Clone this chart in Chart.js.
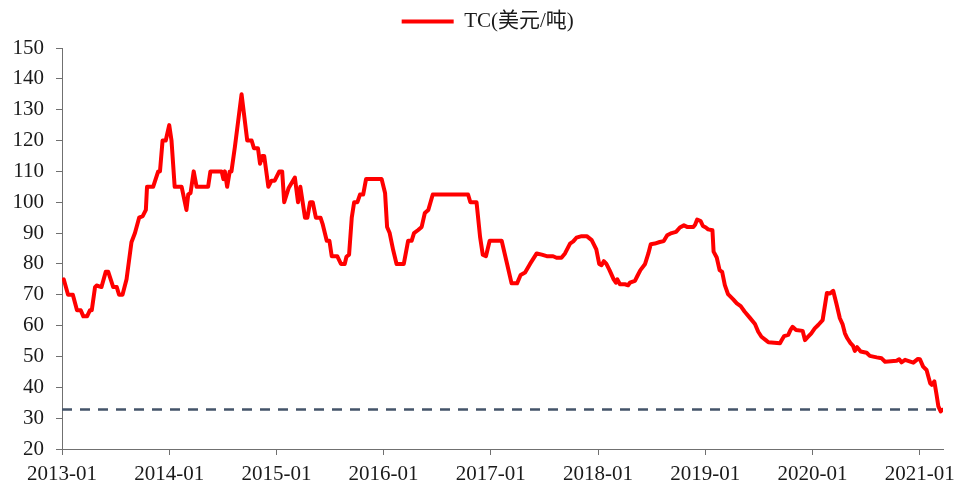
<!DOCTYPE html>
<html>
<head>
<meta charset="utf-8">
<script src="https://cdn.jsdelivr.net/npm/chart.js@4/dist/chart.umd.min.js"></script>
<style>
html,body{margin:0;padding:0;background:#fff;overflow:hidden;}
#wrap{width:955px;height:484px;position:relative;}
</style>
</head>
<body>
<div id="wrap"><canvas id="c"></canvas></div>
<script>
// ---- data ----
const dates = [
'2013-01-07','2013-01-22','2013-02-07','2013-02-20','2013-03-04','2013-03-13','2013-03-26','2013-04-05','2013-04-11','2013-04-22',
'2013-04-27','2013-05-14','2013-05-29','2013-06-06','2013-06-23','2013-07-05','2013-07-13','2013-07-25','2013-08-08','2013-08-25',
'2013-09-06','2013-09-20','2013-10-02','2013-10-13','2013-10-17','2013-11-07','2013-11-24','2013-11-30','2013-12-09','2013-12-20',
'2014-01-01','2014-01-09','2014-01-20','2014-02-12','2014-02-27','2014-03-05','2014-03-13','2014-03-24','2014-04-03','2014-05-12',
'2014-05-20','2014-06-27','2014-07-03','2014-07-08','2014-07-16','2014-07-25','2014-07-31','2014-08-12','2014-09-04','2014-09-23',
'2014-10-08','2014-10-16','2014-10-30','2014-11-06','2014-11-14','2014-11-20','2014-12-04','2014-12-15','2014-12-26','2015-01-11',
'2015-01-21','2015-01-28','2015-02-11','2015-03-03','2015-03-14','2015-03-22','2015-04-07','2015-04-15','2015-04-24','2015-05-03',
'2015-05-14','2015-05-30','2015-06-06','2015-06-20','2015-06-29','2015-07-07','2015-07-26','2015-08-08','2015-08-21','2015-08-27',
'2015-09-05','2015-09-14','2015-09-22','2015-10-03','2015-10-12','2015-10-23','2015-11-02','2015-12-25','2016-01-06','2016-01-13',
'2016-01-22','2016-02-03','2016-02-14','2016-03-09','2016-03-24','2016-04-05','2016-04-13','2016-04-27','2016-05-09','2016-05-20',
'2016-06-01','2016-06-16','2016-10-15','2016-10-23','2016-11-13','2016-11-25','2016-12-04','2016-12-15','2016-12-28','2017-02-07',
'2017-02-24','2017-03-11','2017-03-30','2017-04-11','2017-04-26','2017-05-13','2017-06-05','2017-06-22','2017-07-09','2017-07-31',
'2017-08-12','2017-08-29','2017-09-10','2017-09-27','2017-10-08','2017-10-19','2017-11-06','2017-11-23','2017-12-10','2017-12-26',
'2018-01-05','2018-01-13','2018-01-21','2018-01-30','2018-02-09','2018-02-22','2018-03-01','2018-03-06','2018-03-15','2018-04-01',
'2018-04-12','2018-04-18','2018-05-05','2018-05-13','2018-05-24','2018-06-09','2018-06-20','2018-06-28','2018-07-12','2018-07-29',
'2018-08-12','2018-08-24','2018-09-08','2018-09-23','2018-10-06','2018-10-20','2018-10-31','2018-11-21','2018-11-27','2018-12-04',
'2018-12-16','2018-12-24','2019-01-03','2019-01-11','2019-01-26','2019-01-30','2019-02-09','2019-02-18','2019-02-26','2019-03-07',
'2019-03-18','2019-04-05','2019-04-17','2019-04-30','2019-05-14','2019-06-01','2019-06-18','2019-06-29','2019-07-10','2019-07-25',
'2019-08-03','2019-09-12','2019-09-18','2019-09-26','2019-10-10','2019-10-18','2019-10-25','2019-11-06','2019-11-28','2019-12-06',
'2019-12-17','2019-12-28','2020-01-09','2020-01-21','2020-02-05','2020-02-19','2020-02-29','2020-03-11','2020-03-22','2020-04-03',
'2020-04-12','2020-04-20','2020-04-28','2020-05-09','2020-05-18','2020-05-24','2020-06-01','2020-06-13','2020-07-03','2020-07-14',
'2020-08-07','2020-08-24','2020-09-05','2020-10-14','2020-10-23','2020-10-31','2020-11-12','2020-12-10','2020-12-26','2021-01-02',
'2021-01-13','2021-01-25','2021-02-06','2021-02-11','2021-02-19','2021-02-26','2021-03-04','2021-03-12','2021-03-18'
];
const tcValues = [
75,70,70,65,65,63,63,65,65,72.5,
73,72.5,77.5,77.5,72.5,72.5,70,70,75,87,
90,95,95.5,97.5,105,105,110,110,120,120,
125,120,105,105,97.5,102.5,103,110,105,105,
110,110,107.5,110,105,110,110,118,135,120,
120,117.5,117.5,112.5,115,115,105,107,107,110,
110,100,104.5,108,100,105,95,95,100,100,
95,95,93,87.5,87.5,82.5,82.5,80,80,82.3,
83,95,100,100,102.5,102.5,107.5,107.5,103,92,
90,84.5,80,80,87.5,87.5,90,91,92,96.5,
97.5,102.5,102.5,100,100,88.7,83,82.5,87.5,87.5,
80,73.7,73.7,76.4,77.2,80,83.4,83,82.5,82.5,
82,82,83.4,86.6,87.3,88.5,89,89,87.7,84.7,
80,79.6,80.9,80,78,75,73.9,75,73.4,73.4,
73.1,73.9,74.5,76,78,80,83.4,86.4,86.6,87.1,
87.4,89.3,90,90.4,91.8,92.5,92,92,92.7,94.4,
93.9,92.3,91.8,91.2,90.9,84,82.1,78,77.4,73.1,
70.2,68.5,67.2,66.3,64.5,62.5,60.5,58,56.4,55.3,
54.6,54.3,55.3,56.6,57,58.6,59.6,58.6,58.3,55.3,
56.4,57.5,59.1,60.2,61.8,70.6,70.4,71.3,67.2,62.4,
60.5,57.5,55.9,54.3,53.4,51.8,53,51.6,51.2,50.2,
49.7,49.4,48.3,48.6,49.1,48.1,48.9,48,49.2,49.1,
46.7,45.6,41.3,40.8,41.9,37.6,33.8,32.2,32.7
];
const refLevel = 32.8;
const xTickLabels = ['2013-01','2014-01','2015-01','2016-01','2017-01','2018-01','2019-01','2020-01','2021-01'];
const xEndDate = '2021-03-20';
const yMin = 20, yMax = 150, yStep = 10;
const seriesName = 'TC(美元/吨)';

function toMonth(s){
  const p = s.split('-').map(Number);
  const dim = new Date(p[0], p[1], 0).getDate();
  return (p[0]-2013)*12 + (p[1]-1) + (p[2]-1)/dim;
}
const xMax = toMonth(xEndDate);
const tcPoints = dates.map((d,i)=>({x: toMonth(d), y: tcValues[i]}));
const refPoints = [{x:0, y:refLevel},{x:xMax, y:refLevel}];

const FONT = "'Liberation Serif','Times New Roman','Noto Sans CJK SC',serif";

const legendTweak = {
  id: 'legendTweak',
  beforeInit(chart){
    const lg = chart.legend;
    const fit = lg.fit;
    lg.fit = function(){ fit.bind(lg)(); this.height += 6; };
    const draw = lg.draw;
    lg.draw = function(){
      const ctx = chart.ctx;
      ctx.save(); ctx.translate(10, 0);
      draw.bind(lg)();
      ctx.restore();
    };
  }
};

new Chart(document.getElementById('c'), {
  type: 'line',
  data: {
    datasets: [
      {label: seriesName, data: tcPoints, borderColor:'#ff0000', backgroundColor:'#ff0000',
       borderWidth:4, pointRadius:0, tension:0, borderJoinStyle:'round', borderCapStyle:'round'},
      {label: 'ref', data: refPoints, borderColor:'#44546a', borderWidth:2.5,
       borderDash:[10,8], pointRadius:0, tension:0}
    ]
  },
  plugins: [legendTweak],
  options: {
    responsive: true,
    maintainAspectRatio: false,
    animation: false,
    devicePixelRatio: 1,
    layout: {padding: {left: 0.5, right: 0, top: 1, bottom: 0}},
    plugins: {
      legend: {
        display: true,
        position: 'top',
        labels: {
          filter: (item)=> item.datasetIndex === 0,
          usePointStyle: true,
          pointStyle: 'line',
          pointStyleWidth: 52,
          color: '#1a1a1a',
          font: {family: FONT, size: 21},
          padding: 10
        }
      },
      tooltip: {enabled:false}
    },
    scales: {
      x: {
        type: 'linear',
        min: 0,
        max: xMax,
        afterBuildTicks: (scale)=>{ scale.ticks = xTickLabels.map((_,i)=>({value:i*12})); },
        afterFit: (scale)=>{ scale.height = 35; scale.paddingRight = 12; scale.paddingLeft = 0; },
        ticks: {
          callback: (v, i)=> xTickLabels[i],
          color: '#1a1a1a',
          font: {family: FONT, size: 21},
          maxRotation: 0,
          autoSkip: false,
          padding: 6.5
        },
        grid: {display:true, drawOnChartArea:false, drawTicks:true, tickLength:6, color:'#707070'},
        border: {display:true, color:'#707070', width:1}
      },
      y: {
        min: yMin,
        max: yMax,
        ticks: {
          stepSize: yStep,
          color: '#1a1a1a',
          font: {family: FONT, size: 21},
          padding: 12
        },
        grid: {display:true, drawOnChartArea:false, drawTicks:true, tickLength:6, color:'#707070'},
        border: {display:true, color:'#707070', width:1}
      }
    }
  }
});
</script>
</body>
</html>
